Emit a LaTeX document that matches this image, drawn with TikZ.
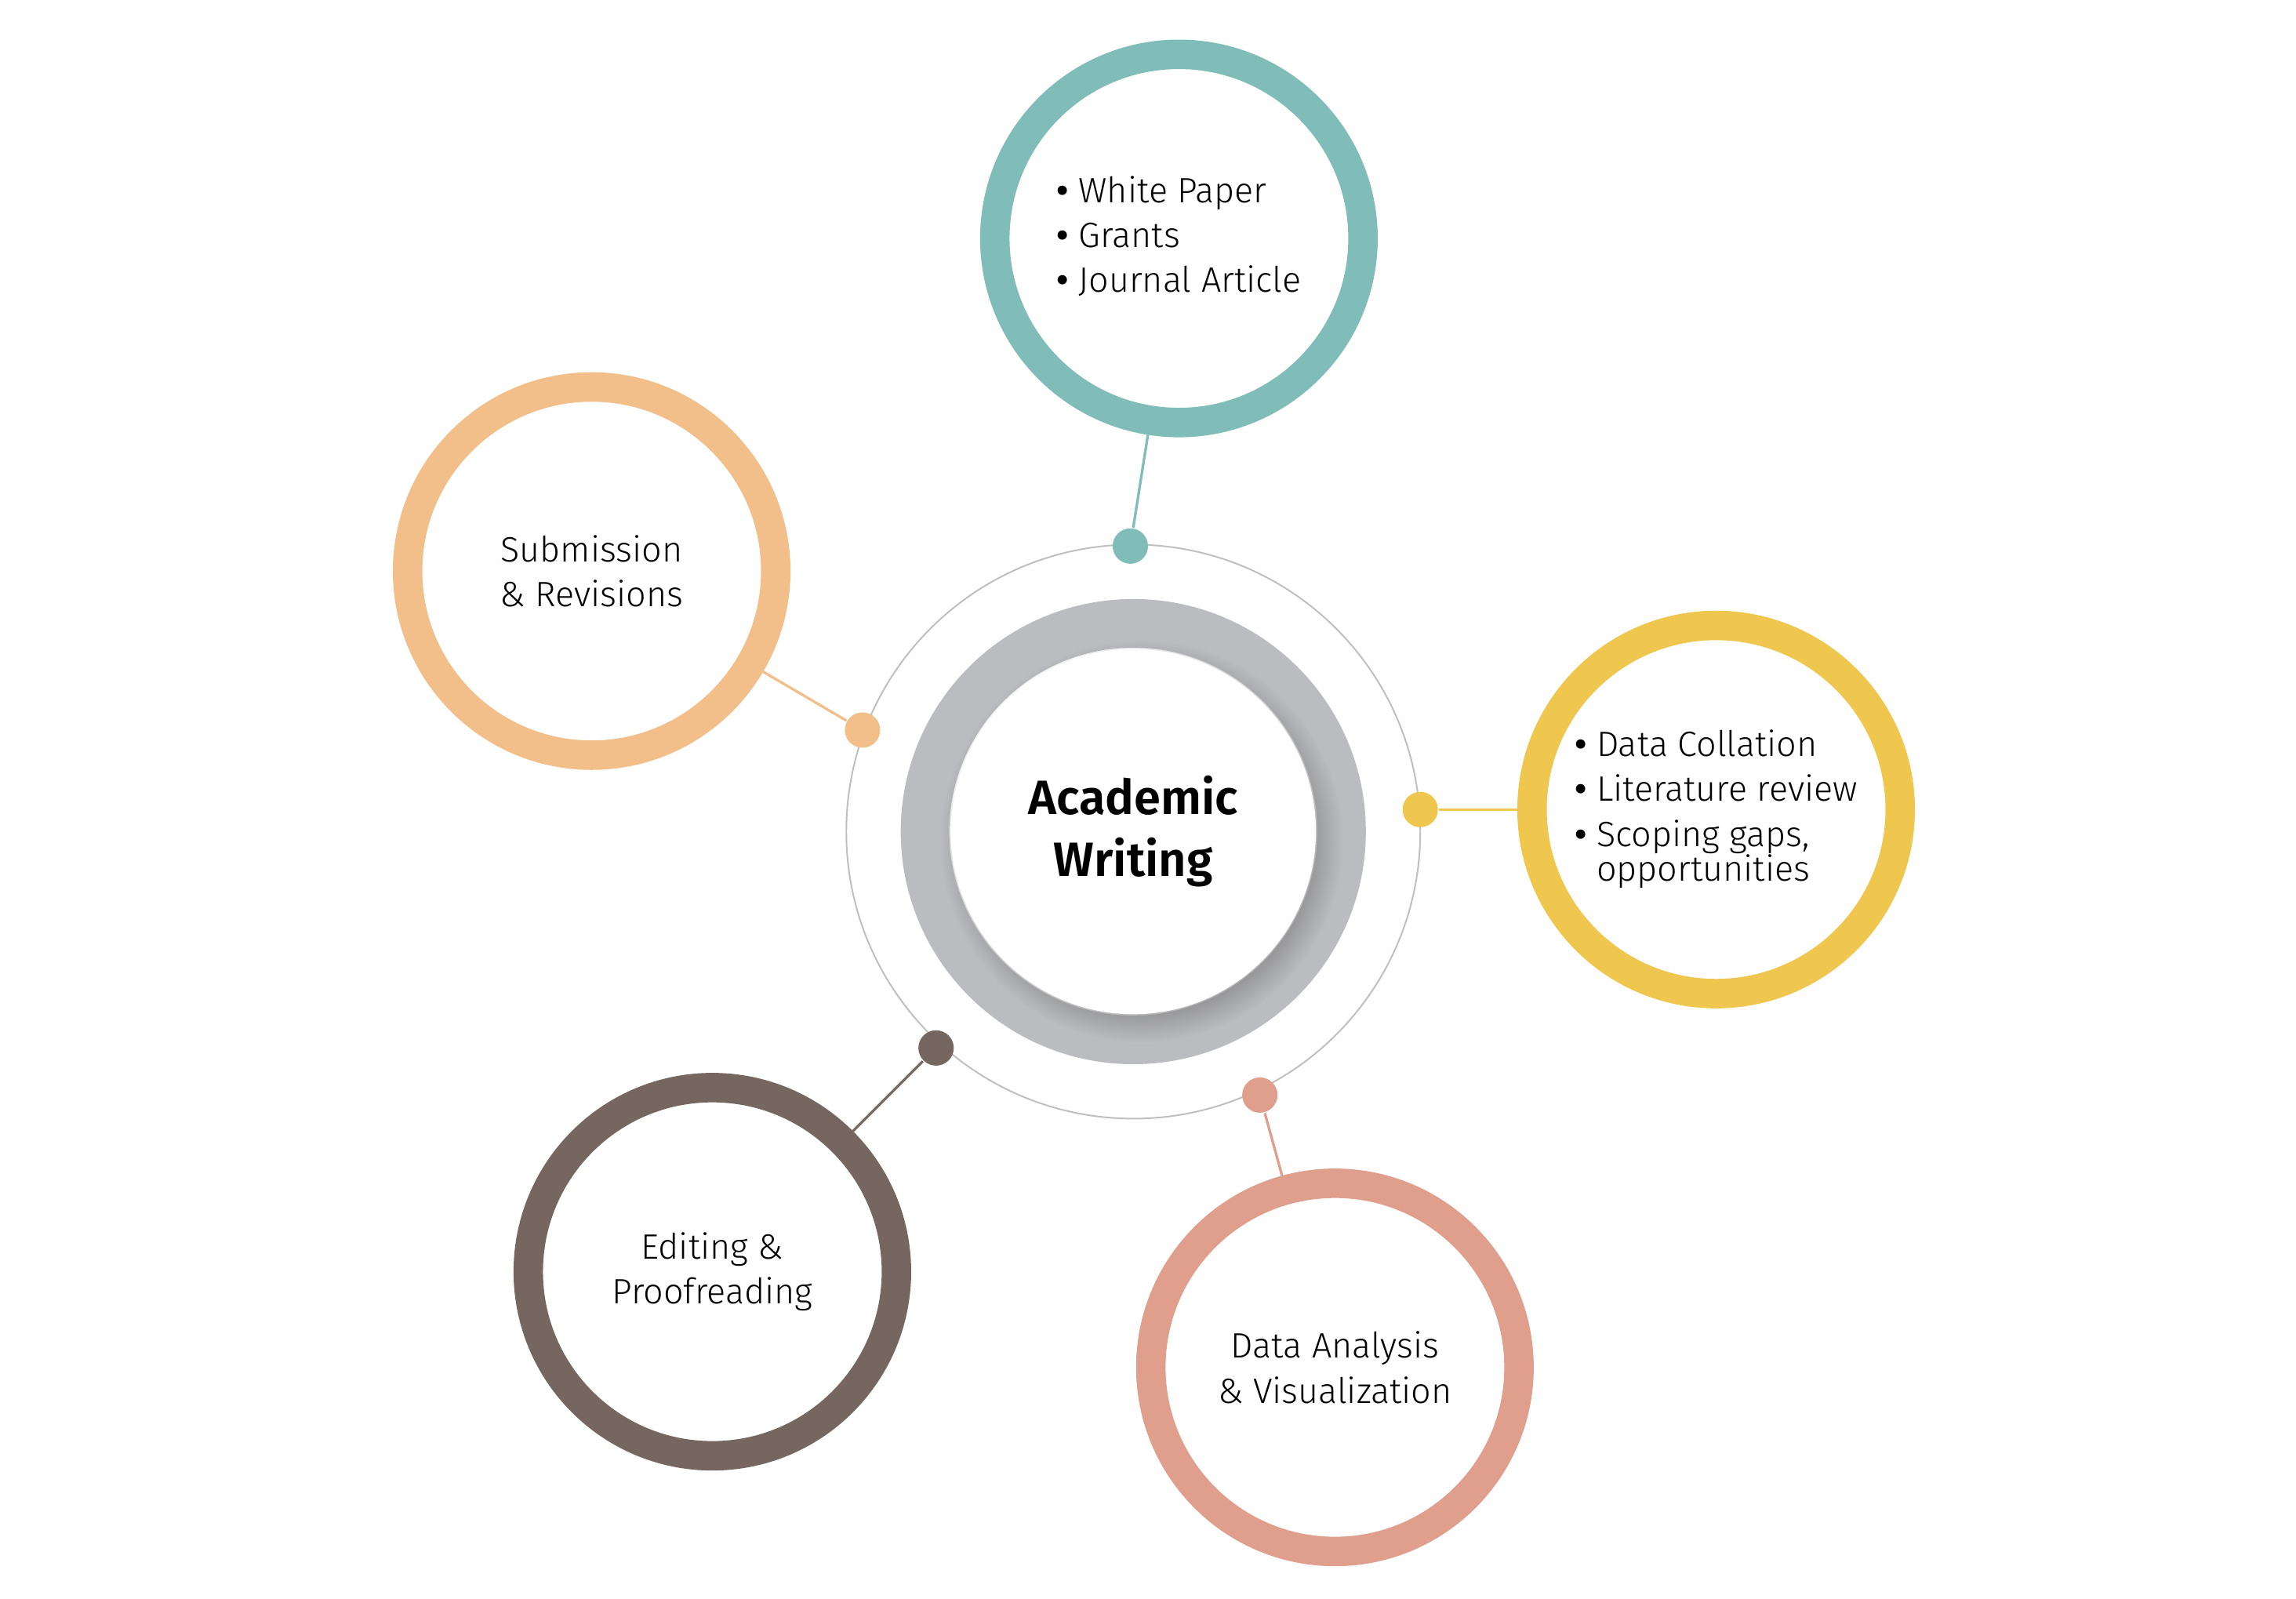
\documentclass[tikz,border=0pt]{standalone}
\usepackage{fontspec}
\setmainfont{Fira Sans Light}[BoldFont=Fira Sans SemiBold]
\usetikzlibrary{shadows}
\definecolor{tealc}{HTML}{80BDB8}
\definecolor{orangec}{HTML}{F2BF8A}
\definecolor{yellowc}{HTML}{EFC74F}
\definecolor{brownc}{HTML}{756760}
\definecolor{salmonc}{HTML}{E09E8C}
\definecolor{grayc}{HTML}{BBBCC0}
\tikzset{
  ring/.style={circle, draw=#1, line width=0.2cm, minimum size=2.5cm, inner sep=0pt, font=\fontsize{6.8}{8.7}\selectfont, align=center},
  dot/.style={circle, fill=#1, minimum size=0.24cm, inner sep=0pt},
  link/.style={draw=#1, line width=0.5pt}
}
\newcommand{\bl}{{\bfseries\textbullet}\ }
\begin{document}
\begin{tikzpicture}[x=0.01cm,y=-0.01cm]
\useasboundingbox (0,0) rectangle (1560,1086);
% centre
\draw[gray!50, line width=0.3pt] (770,565) circle (195);
\draw[grayc, line width=0.33cm] (770,565) circle (141.5);
\node[circle, fill=white, minimum size=2.48cm, circular drop shadow={shadow xshift=0.05cm, shadow yshift=-0.06cm, opacity=0.6}, font=\fontsize{9.3}{12}\selectfont\bfseries, align=center] (core) at (770,565) {Academic\\Writing};
% outer circles
\node[ring=tealc] (paper) at (801,162) {\begin{tabular}{@{}l@{}}\bl White Paper\\\bl Grants\\\bl Journal Article\end{tabular}};
\node[ring=orangec] (submit) at (402,388) {Submission\\\& Revisions};
\node[ring=yellowc] (collate) at (1166,550) {\begin{tabular}{@{}l@{}}\bl Data Collation\\\bl Literature review\\\bl Scoping gaps,\\[-2pt]\hphantom{\bl}opportunities\end{tabular}};
\node[ring=brownc] (edit) at (484,864) {Editing \&\\Proofreading};
\node[ring=salmonc] (analysis) at (907,929) {Data Analysis\\\& Visualization};
% dots
\node[dot=tealc] (d1) at (768,371) {};
\node[dot=orangec] (d2) at (586,496) {};
\node[dot=yellowc] (d3) at (965,550) {};
\node[dot=brownc] (d4) at (636,712) {};
\node[dot=salmonc] (d5) at (856,744) {};
% links
\path[link=tealc] (d1) -- (paper);
\path[link=orangec] (d2) -- (submit);
\path[link=yellowc] (d3) -- (collate);
\path[link=brownc] (d4) -- (edit);
\path[link=salmonc] (d5) -- (analysis);
\end{tikzpicture}
\end{document}
